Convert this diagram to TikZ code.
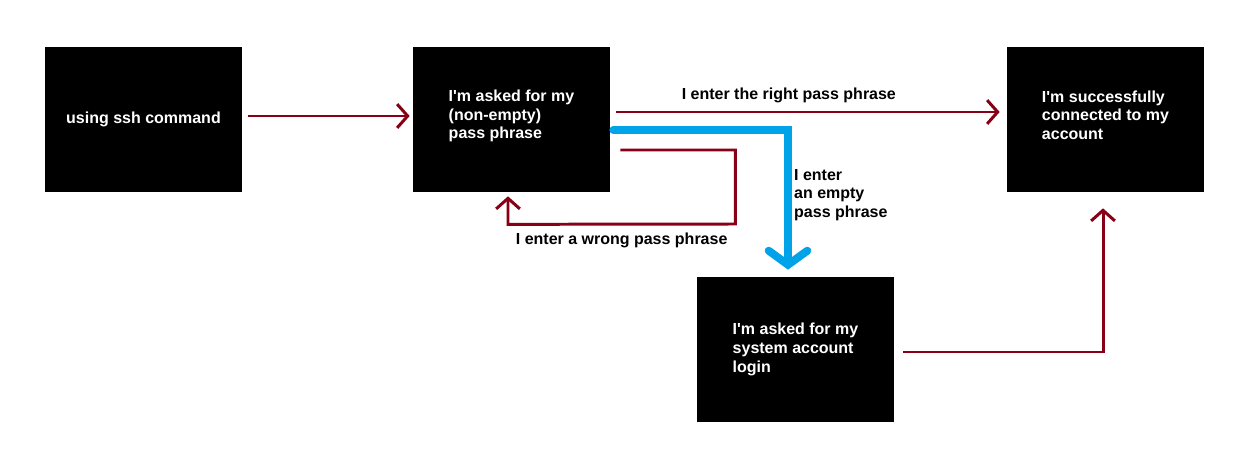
\documentclass[tikz,border=0pt]{standalone}
\usepackage{fontspec}
\setmainfont{Liberation Sans}
\usetikzlibrary{arrows.meta, calc}
\definecolor{sshred}{RGB}{136, 0, 21}
\definecolor{sshblue}{RGB}{0, 162, 232}

\begin{document}
\begin{tikzpicture}[x=0.02cm, y=-0.02cm,
    every node/.style={font=\fontsize{9.1}{10.6}\selectfont\bfseries},
    statebox/.style={fill=black, text=white, align=left, inner sep=0pt,
      minimum width=3.94cm, minimum height=2.9cm},
    redarrow/.style={draw=sshred, line width=1.7pt,
      -{Straight Barb[length=6pt, width=13.5pt]}},
    bluearrow/.style={draw=sshblue, line width=4.5pt, line cap=round,
      -{Straight Barb[length=8pt, width=22pt, line cap=round]}}]
  \useasboundingbox[fill=white] (0,0) rectangle (1252,462);
  \node[statebox] (ssh) at (143.5,119.5) {using ssh command};
  \node[statebox, text depth=6pt] (asked) at (511.5,119.5)
    {I\textquotesingle m asked for my\\(non-empty)\\pass phrase};
  \node[statebox, text depth=5pt] (success) at (1105.5,119.5)
    {I\textquotesingle m successfully\\connected to my\\account};
  \node[statebox] (login) at (795.5,349.5)
    {I\textquotesingle m asked for my\\system account\\login};
  % connectors
  \draw[redarrow] ($(ssh.east)+(6,-3.5)$) -- ($(asked.west)+(-3,-3.5)$);
  \draw[redarrow] ($(asked.east)+(6,-7.5)$) -- ($(success.west)+(-7,-7.5)$)
    node[pos=0.45, above=1pt] (right) {I enter the right pass phrase};
  \coordinate (wrongcorner) at ($(asked.east)+(125,104.5)$);
  \draw[redarrow] ($(asked.east)+(10,30.5)$) -| (wrongcorner)
    -- ($(asked.south)+(-3.5,32)$)
    node[pos=0.5, below=1pt] (wrong) {I enter a wrong pass phrase}
    -- ($(asked.south)+(-3.5,4)$);
  \draw[bluearrow] ($(asked.east)+(3,10.5)$) -| ($(login.north)+(-7.5,-7)$);
  \node[anchor=north west, align=left] (empty) at (788,163)
    {I enter\\an empty\\pass phrase};
  \draw[redarrow] ($(login.east)+(9,2.5)$) -| ($(success.south)+(-2.5,16)$);
\end{tikzpicture}
\end{document}
